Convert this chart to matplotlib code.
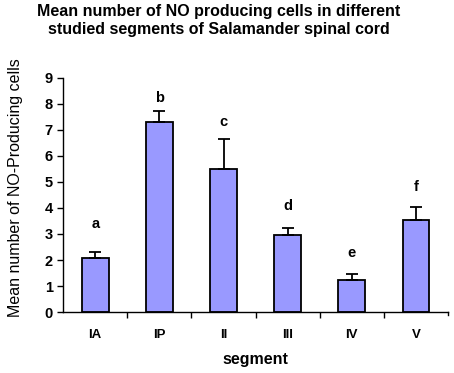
import matplotlib
matplotlib.use("Agg")
from matplotlib import pyplot as plt
import numpy as np

plt.rcParams['font.family'] = ['Liberation Sans', 'DejaVu Sans']

# data
segments = ["IA", "IP", "II", "III", "IV", "V"]
means = [2.08, 7.32, 5.50, 2.96, 1.22, 3.53]
errors = [0.22, 0.42, 1.15, 0.28, 0.25, 0.52]
letters = ["a", "b", "c", "d", "e", "f"]
letter_gap = [1.1, 0.5, 0.65, 0.85, 0.8, 0.75]

fig = plt.figure(figsize=(4.54, 3.73), dpi=100)
ax = fig.add_axes([0.139, 0.1635, 0.848, 0.6275])

x = np.arange(len(segments))
ax.bar(x, means, width=0.42, color='#9999ff', edgecolor='black', linewidth=1.3, zorder=2)
# only the upper half of the error bars is drawn
ax.errorbar(x, means, yerr=[np.zeros(len(means)), errors], fmt='none',
            ecolor='black', elinewidth=1.3, capsize=4, capthick=1.3, zorder=3)

for i in range(len(x)):
    ax.text(x[i], means[i] + errors[i] + letter_gap[i], letters[i],
            ha='center', va='center', fontsize=10.5, fontweight='bold')

ax.set_xlim(-0.5, len(segments) - 0.5)
ax.set_ylim(0, 9)
ax.set_yticks(range(0, 10))
ax.tick_params(axis='y', labelsize=10.5, length=4, width=1, direction='out')
for lab in ax.get_yticklabels():
    lab.set_fontweight('bold')

# ticks between categories, labels under the bars
ax.set_xticks(x[:-1] + 0.5, minor=False)
ax.set_xticklabels([])
ax.tick_params(axis='x', length=4, width=1, direction='out')
ax.set_xticks(x, minor=True)
ax.set_xticklabels(segments, minor=True, fontsize=9.5, fontweight='bold')
ax.tick_params(axis='x', which='minor', length=0, pad=12)
ax.plot([len(segments) - 0.5] * 2, [0, -0.12], color='black', lw=1, clip_on=False)

for s in ['top', 'right']:
    ax.spines[s].set_visible(False)
for s in ['left', 'bottom']:
    ax.spines[s].set_linewidth(1)

ax.set_ylabel("Mean number of NO-Producing cells", fontsize=11.5)
ax.yaxis.set_label_coords(-0.104, 0.53)
ax.set_xlabel("segment", fontsize=11.5, fontweight='bold', labelpad=8)
fig.text(0.482, 0.99, "Mean number of NO producing cells in different\nstudied segments of Salamander spinal cord",
         ha='center', va='top', fontsize=11.5, fontweight='bold', linespacing=1.3)

fig.savefig("out.png", dpi=100)
